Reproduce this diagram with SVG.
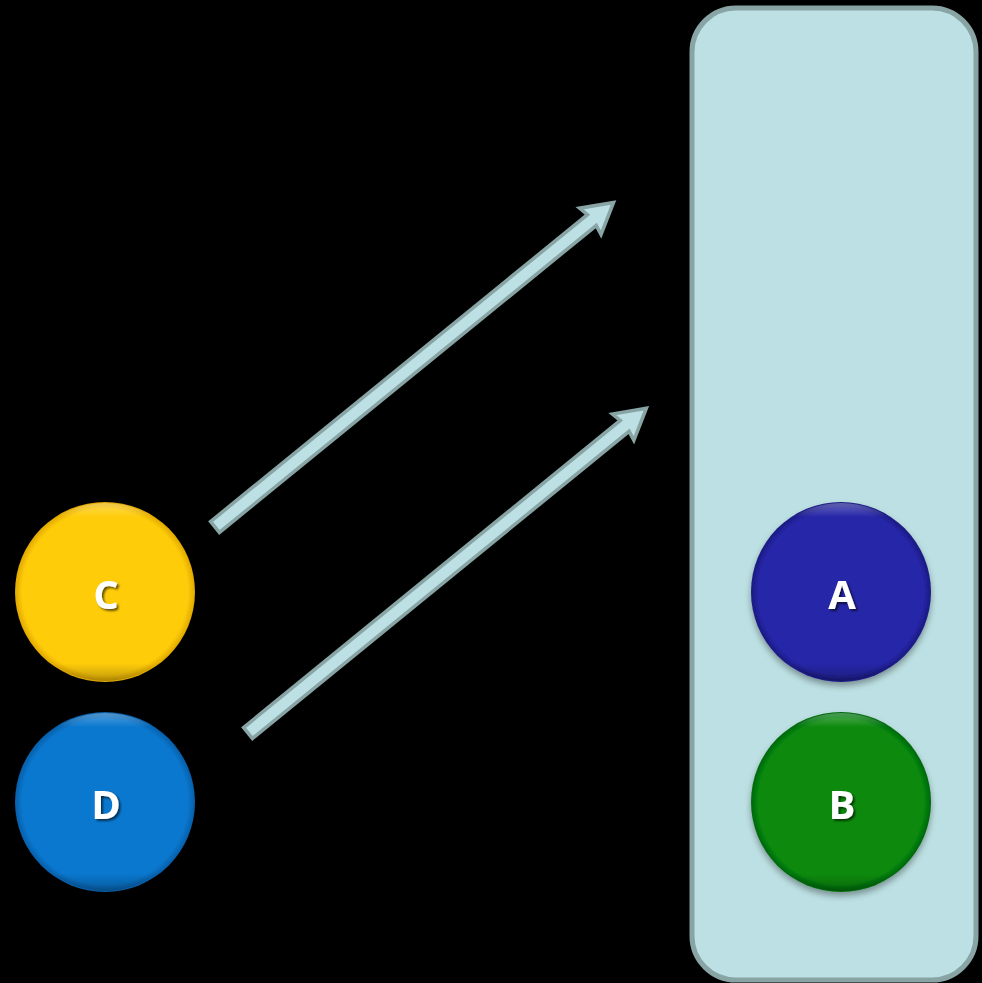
<svg xmlns="http://www.w3.org/2000/svg" width="982" height="983" viewBox="0 0 982 983">
<defs>
<style>
.lbl{font-family:"Open Sans","Noto Sans",sans-serif;font-weight:bold;font-size:40px;fill:#fff;text-anchor:middle;filter:url(#ts)}
.arrow{fill:#bce0e3;stroke:#88a4a4;stroke-width:3.5;stroke-linejoin:miter}
</style>
<filter id="ts" x="-50%" y="-50%" width="200%" height="200%"><feDropShadow dx="2" dy="2" stdDeviation="1.2" flood-color="#000" flood-opacity="0.6"/></filter>
<filter id="cs" x="-20%" y="-20%" width="140%" height="140%"><feDropShadow dx="0" dy="4" stdDeviation="3" flood-color="#000" flood-opacity="0.35"/></filter>
<radialGradient id="gC" cx="0.5" cy="0.5" r="0.5"><stop offset="0.92" stop-color="#ffcc0a"/><stop offset="1" stop-color="#e0a800"/></radialGradient>
<radialGradient id="gD" cx="0.5" cy="0.5" r="0.5"><stop offset="0.92" stop-color="#0a78cf"/><stop offset="1" stop-color="#075ea8"/></radialGradient>
<radialGradient id="gA" cx="0.5" cy="0.5" r="0.5"><stop offset="0.92" stop-color="#2626a8"/><stop offset="1" stop-color="#1a1a80"/></radialGradient>
<radialGradient id="gB" cx="0.5" cy="0.5" r="0.5"><stop offset="0.92" stop-color="#078a0c"/><stop offset="1" stop-color="#046608"/></radialGradient>
<linearGradient id="hl" x1="0" y1="0" x2="0" y2="1"><stop offset="0" stop-color="#fff" stop-opacity="0.3"/><stop offset="0.08" stop-color="#fff" stop-opacity="0"/><stop offset="0.9" stop-color="#000" stop-opacity="0"/><stop offset="1" stop-color="#000" stop-opacity="0.25"/></linearGradient>
</defs>
<rect width="982" height="983" fill="#000"/>
<g id="panel">
<rect x="692" y="8" width="284" height="972" rx="44" ry="44" fill="#bce0e3" stroke="#88a4a4" stroke-width="5"/>
</g>
<g id="connectors">
<polygon class="arrow" transform="translate(215,527) rotate(-39.16)" points="0,-7 486,-7 484,-17 514,0 484,17 486,7 0,7"/>
<polygon class="arrow" transform="translate(248,733) rotate(-39.19)" points="0,-7 486,-7 484,-17 514,0 484,17 486,7 0,7"/>
</g>
<g id="node-C">
<circle cx="105" cy="592" r="90" fill="url(#gC)"/>
<circle cx="105" cy="592" r="89" fill="url(#hl)"/>
<text class="lbl" x="106" y="609">C</text>
</g>
<g id="node-D">
<circle cx="105" cy="802" r="90" fill="url(#gD)"/>
<circle cx="105" cy="802" r="89" fill="url(#hl)"/>
<text class="lbl" x="106" y="819">D</text>
</g>
<g id="node-A">
<circle cx="841" cy="592" r="90" fill="url(#gA)" filter="url(#cs)"/>
<circle cx="841" cy="592" r="89" fill="url(#hl)"/>
<text class="lbl" x="842" y="609">A</text>
</g>
<g id="node-B">
<circle cx="841" cy="802" r="90" fill="url(#gB)" filter="url(#cs)"/>
<circle cx="841" cy="802" r="89" fill="url(#hl)"/>
<text class="lbl" x="842" y="819">B</text>
</g>
</svg>
